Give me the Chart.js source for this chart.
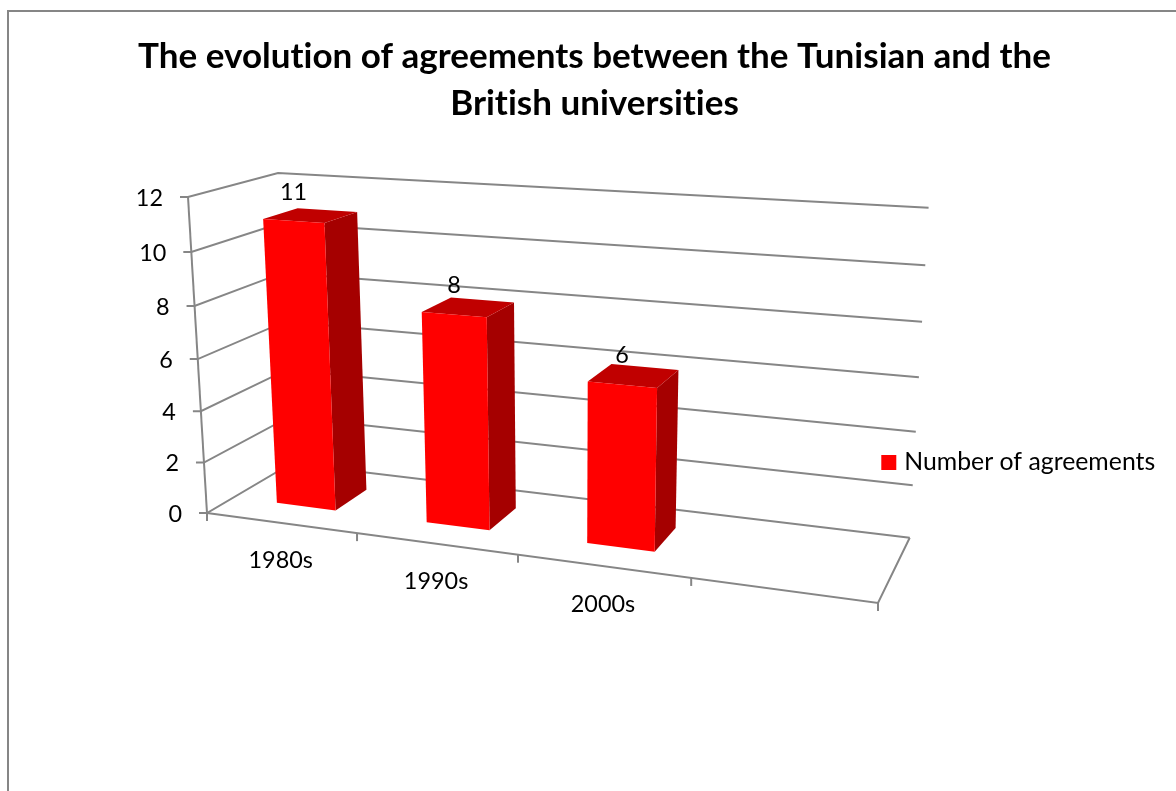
<!DOCTYPE html>
<html>
<head>
<meta charset="utf-8">
<title>Agreements chart</title>
<script src="https://cdn.jsdelivr.net/npm/chart.js@4"></script>
<style>
    html, body { margin: 0; padding: 0; background: #fff; overflow: hidden; }
    #wrap { position: relative; width: 1176px; height: 791px; overflow: hidden; }
    #frame { position: absolute; left: 7px; top: 10px; width: 1400px; height: 1000px; border: 2px solid #868686; }
    #myChart { position: absolute; left: 0; top: 0; }
</style>
</head>
<body>
<div id="wrap">
    <div id="frame"></div>
    <canvas id="myChart" width="1176" height="791"></canvas>
</div>
<script>
var titleLines = ['The evolution of agreements between the Tunisian and the', 'British universities'];
var seriesName = 'Number of agreements';
var categories = ['1980s', '1990s', '2000s', ''];
var agreements = [11, 8, 6, null];

var FONT = 'Lato';
var TEXT_SIZE = 23.4;
var GREY = '#868686';
var TEXT = '#000';

// 3d box of the plot: origin, end of each axis, and the perspective weight of each axis
var O = [207, 513], X = [878, 603], Y = [188, 197], Z = [291.3, 463.5];
var wx = 0.864, wy = 0.95, wz = 1.092;
var barFront = 0.30, barBack = 0.70; // depth of the bars, 0 = front of floor, 1 = back wall
var legendShift = 67;

function project(u, v, w) {
    var a = 1 - u - v - w;
    var W = 1 + u * (wx - 1) + v * (wy - 1) + w * (wz - 1);
    return [
        (a * O[0] + u * wx * X[0] + v * wy * Y[0] + w * wz * Z[0]) / W,
        (a * O[1] + u * wx * X[1] + v * wy * Y[1] + w * wz * Z[1]) / W
    ];
}

function line(ctx, pts) {
    ctx.beginPath();
    pts.forEach(function (p, i) {
        if (i === 0) ctx.moveTo(p[0], p[1]); else ctx.lineTo(p[0], p[1]);
    });
    ctx.stroke();
}

function face(ctx, pts, color) {
    ctx.fillStyle = color;
    ctx.beginPath();
    pts.forEach(function (p, i) {
        if (i === 0) ctx.moveTo(p[0], p[1]); else ctx.lineTo(p[0], p[1]);
    });
    ctx.closePath();
    ctx.fill();
}

var box3d = {
    id: 'box3d',
    // legend sits lower than the layout puts it
    afterLayout: function (chart) {
        var l = chart.legend;
        l.top += legendShift;
        l.bottom += legendShift;
        l.adjustHitBoxes();
    },
    beforeDraw: function (chart) {
        // a tiny spacing switches off the "ti" ligature of Lato
        chart.ctx.letterSpacing = '0.01px';
    },
    // the flat bars are replaced by the projected ones
    beforeDatasetsDraw: function (chart) {
        var ctx = chart.ctx;
        var xs = chart.scales.x, ys = chart.scales.y;
        ctx.save();
        ctx.strokeStyle = GREY;
        ctx.lineWidth = 2;

        // gridlines on left and back wall, ticks and labels of the value axis
        ctx.font = TEXT_SIZE + 'px ' + FONT;
        ctx.textAlign = 'right';
        ctx.textBaseline = 'middle';
        ys.ticks.forEach(function (t) {
            var v = ys.getDecimalForPixel(ys.getPixelForValue(t.value));
            var a = project(0, v, 0), b = project(0, v, 1), c = project(1, v, 1);
            line(ctx, [[a[0] - 8, a[1]], a, b, c]);
            ctx.fillStyle = TEXT;
            ctx.fillText(t.label, a[0] - 25, a[1] + 1);
        });

        // box edges
        line(ctx, [project(0, 0, 0), project(0, 1, 0)]);
        line(ctx, [project(0, 0, 0), project(1, 0, 0), project(1, 0, 1)]);

        // ticks and labels of the category axis
        categories.forEach(function (c, i) {
            var u0 = xs.getDecimalForPixel(xs.getPixelForValue(i - 0.5));
            var u1 = xs.getDecimalForPixel(xs.getPixelForValue(i + 0.5));
            var p = project(u0, 0, 0);
            line(ctx, [p, [p[0], p[1] + 8]]);
            if (i === categories.length - 1) {
                p = project(u1, 0, 0);
                line(ctx, [p, [p[0], p[1] + 8]]);
            }
            var m = project(xs.getDecimalForPixel(xs.getPixelForValue(i)), 0, 0);
            ctx.fillStyle = TEXT;
            ctx.textAlign = 'center';
            ctx.fillText(c, m[0], m[1] + 38);
        });

        // bars
        chart.getDatasetMeta(0).data.forEach(function (el, i) {
            if (agreements[i] === null) return;
            var u0 = xs.getDecimalForPixel(el.x - el.width / 2);
            var u1 = xs.getDecimalForPixel(el.x + el.width / 2);
            var v = ys.getDecimalForPixel(el.y);
            var v0 = ys.getDecimalForPixel(el.base);
            var f = barFront, b = barBack;
            face(ctx, [project(u1, v0, f), project(u1, v0, b), project(u1, v, b), project(u1, v, f)], '#A50000');
            face(ctx, [project(u0, v, f), project(u1, v, f), project(u1, v, b), project(u0, v, b)], '#C00000');
            face(ctx, [project(u0, v0, f), project(u1, v0, f), project(u1, v, f), project(u0, v, f)], '#FF0000');

            var top = project((u0 + u1) / 2, v, f);
            ctx.fillStyle = TEXT;
            ctx.textAlign = 'center';
            ctx.fillText(String(agreements[i]), top[0], top[1] - 29);
        });
        ctx.restore();
        return false;
    }
};

new Chart(document.getElementById('myChart').getContext('2d'), {
    type: 'bar',
    data: {
        labels: categories,
        datasets: [{
            label: seriesName,
            data: agreements,
            backgroundColor: '#FF0000',
            borderWidth: 0,
            barPercentage: 0.4,
            categoryPercentage: 1
        }]
    },
    options: {
        responsive: false,
        animation: false,
        layout: { padding: { left: 24, right: 11, top: 0, bottom: 0 } },
        scales: {
            x: { display: false },
            y: { display: false, min: 0, max: 12, ticks: { stepSize: 2 } }
        },
        plugins: {
            title: {
                display: true,
                text: titleLines,
                color: TEXT,
                font: { family: FONT, size: 35, weight: 'bold', lineHeight: 1.343 },
                padding: { top: 33, bottom: 20 }
            },
            legend: {
                position: 'right',
                labels: {
                    color: TEXT,
                    font: { family: FONT, size: 24.8 },
                    usePointStyle: true,
                    pointStyle: 'rect',
                    boxWidth: 6,
                    boxHeight: 15
                }
            },
            tooltip: { enabled: false }
        }
    },
    plugins: [box3d]
});
</script>
</body>
</html>
